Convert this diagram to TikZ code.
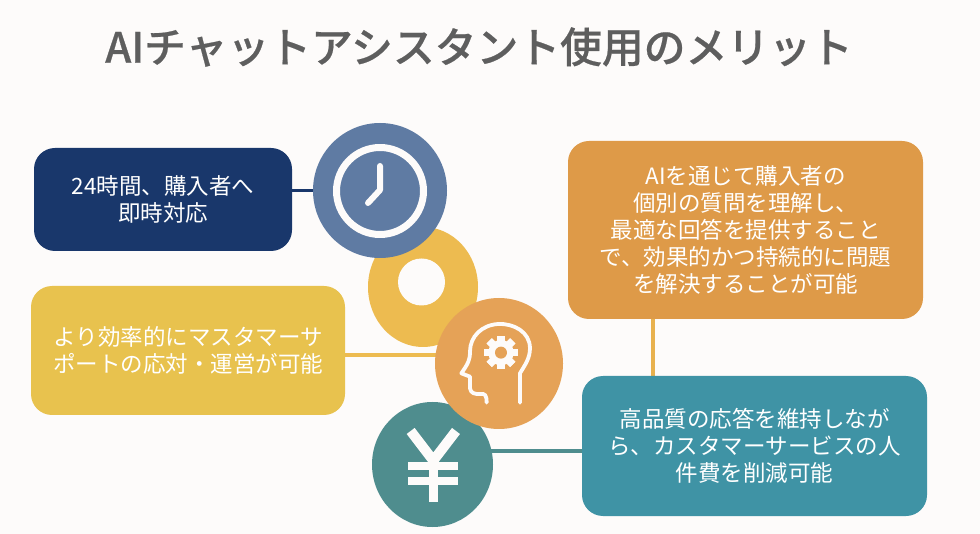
\documentclass[tikz,border=0pt]{standalone}
\usepackage{fontspec}
\setmainfont{Noto Sans CJK JP}
\newfontfamily\boldjp[FakeBold=0.5]{Noto Sans CJK JP Medium}
\usetikzlibrary{shapes.geometric,backgrounds}
\definecolor{bgc}{HTML}{FDFBFA}
\definecolor{titlec}{HTML}{5E5E5E}
\definecolor{navyc}{HTML}{19376B}
\definecolor{clockc}{HTML}{5F7BA3}
\definecolor{yellowc}{HTML}{E8C24E}
\definecolor{ringc}{HTML}{EDBB50}
\definecolor{orangec}{HTML}{DE9A48}
\definecolor{headc}{HTML}{E5A257}
\definecolor{tealc}{HTML}{3F93A5}
\definecolor{yenc}{HTML}{4F8D8E}
\tikzset{
  infobox/.style={rectangle,rounded corners=21pt,inner sep=0pt,outer sep=0pt,text=white,align=center,font=\fontsize{22.5}{27}\selectfont},
  disc/.style={ellipse,inner sep=0pt,outer sep=0pt},
  link/.style={line width=3.5pt},
  iconline/.style={draw=bgc,line cap=round,line join=round}
}
\begin{document}
\begin{tikzpicture}[x=1pt,y=-1pt]
\useasboundingbox (0,0) rectangle (980,534);
% boxes
\node[infobox,fill=navyc,minimum width=258pt,minimum height=103pt] (navy) at (163,199.5) {24時間、購入者へ\\即時対応};
\node[infobox,fill=yellowc,minimum width=314pt,minimum height=129pt] (yellow) at (188,350.5) {\fontsize{22.5}{29}\selectfont より効率的にマスタマーサ\\ポートの応対・運営が可能};
\node[infobox,fill=orangec,minimum width=355pt,minimum height=178pt] (orange) at (745.5,230) {AIを通じて購入者の\\個別の質問を理解し、\\最適な回答を提供すること\\で、効果的かつ持続的に問題\\を解決することが可能};
\node[infobox,fill=tealc,minimum width=345pt,minimum height=140pt] (teal) at (754.5,446) {高品質の応答を維持しなが\\ら、カスタマーサービスの人\\件費を削減可能};
% discs
\node[disc,fill=ringc,minimum width=110pt,minimum height=120pt] (ring) at (423,287) {};
\node[disc,fill=bgc,minimum width=47pt,minimum height=47pt] (hole) at (421.5,282) {};
\node[disc,fill=yenc,minimum width=121pt,minimum height=125pt] (yen) at (432.5,464.5) {};
\node[disc,fill=headc,minimum width=128pt,minimum height=131pt] (head) at (499,363.5) {};
\node[disc,fill=clockc,minimum width=134pt,minimum height=135pt] (clock) at (380,190.5) {};
% connectors
\begin{pgfonlayer}{background}
\fill[bgc] (0,0) rectangle (980,534);
\draw[link,draw=navyc] (navy.east |- clock.center) -- (clock.center);
\draw[link,draw=ringc] ([yshift=-4.5pt]yellow.east) -- ([yshift=-4.5pt]yellow.east -| head.center);
\draw[link,draw=ringc!70!orangec] ([xshift=-92.5pt]orange.south) -- ([xshift=-101.5pt]teal.north);
\draw[link,draw=yenc] ([yshift=-5pt]teal.west) -- ([yshift=-5pt]teal.west -| yen.center);
\end{pgfonlayer}
% title
\node[inner sep=0pt,text=titlec,font=\boldjp\fontsize{41.8}{46}\selectfont] (title) at (479,47) {AIチャットアシスタント使用のメリット};
% clock icon
\draw[iconline,line width=7pt] (clock.center) ++(0,0.5) circle[radius=43.5];
\draw[iconline,line width=6pt] (380,166) -- (380,190) -- (368,203);
% head icon (coordinates in zoom units)
\begin{scope}[shift={(300,110)},x=0.3333pt,y=-0.3333pt]
\draw[iconline,line width=3.8pt] (660,878) -- (660,790) .. controls (675,765) and (690,745) .. (690,715)
  .. controls (690,665) and (640,640) .. (595,642)
  .. controls (545,645) and (510,680) .. (510,725)
  .. controls (510,750) and (505,760) .. (484,790)
  -- (510,800) -- (510,835) .. controls (512,850) and (525,853) .. (540,852)
  .. controls (555,850) and (560,855) .. (560,878);
\foreach \a in {0,45,...,315}{
  \fill[bgc,rotate around={\a:(603,728)}] (592,678) rectangle (614,778);
}
\fill[bgc] (603,728) circle[radius=38];
\fill[headc] (603,728) circle[radius=18];
\end{scope}
% yen icon
\begin{scope}[shift={(300,110)},x=0.3333pt,y=-0.3333pt]
\draw[bgc,line width=10pt] (332,963) -- (400,1052) -- (468,963);
\draw[bgc,line width=9.5pt] (400,1052) -- (400,1176);
\draw[bgc,line width=8pt] (325,1067) -- (475,1067);
\draw[bgc,line width=8pt] (325,1113) -- (475,1113);
\end{scope}
\end{tikzpicture}
\end{document}
